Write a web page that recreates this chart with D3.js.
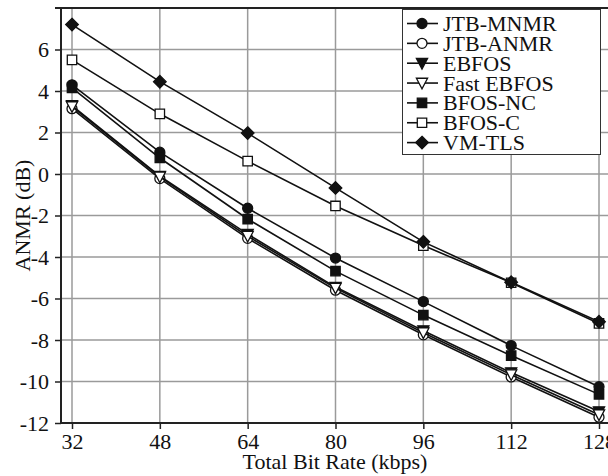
<!DOCTYPE html>
<html><head><meta charset="utf-8">
<script src="https://cdn.jsdelivr.net/npm/d3@7/dist/d3.min.js"></script>
<style>body{margin:0;background:#fff}svg{display:block}</style>
</head><body>
<script>
const bitRates = [32, 48, 64, 80, 96, 112, 128];
const xTicks = [32, 48, 64, 80, 96, 112, 128];
const yTicks = [-12, -10, -8, -6, -4, -2, 0, 2, 4, 6];
const seriesNames = ["JTB-MNMR", "JTB-ANMR", "EBFOS", "Fast EBFOS", "BFOS-NC", "BFOS-C", "VM-TLS"];
const jtbMnmr   = [4.3, 1.05, -1.65, -4.05, -6.15, -8.27, -10.25];
const jtbAnmr   = [3.15, -0.22, -3.1, -5.6, -7.75, -9.78, -11.72];
const ebfos     = [3.3, -0.1, -2.9, -5.45, -7.55, -9.57, -11.45];
const fastEbfos = [3.25, -0.14, -3.0, -5.5, -7.65, -9.67, -11.6];
const bfosNc    = [4.15, 0.77, -2.17, -4.68, -6.8, -8.75, -10.62];
const bfosC     = [5.5, 2.9, 0.62, -1.54, -3.45, -5.24, -7.2];
const vmTls     = [7.2, 4.45, 1.97, -0.67, -3.27, -5.22, -7.12];
const seriesValues = [jtbMnmr, jtbAnmr, ebfos, fastEbfos, bfosNc, bfosC, vmTls];
const markerShapes = ["circle", "circle", "triDown", "triDown", "square", "square", "diamond"];
const markerFilled = [true, false, true, false, true, false, true];

const W = 608, H = 476;
const svg = d3.select("body").append("svg").attr("width", W).attr("height", H)
  .style("font-family", "'Liberation Serif','Times New Roman',serif");

const x = d3.scaleLinear().domain([32, 128]).range([72, 599]);
const y = d3.scaleLinear().domain([-12, 8]).range([423, 8]);
const axisX0 = 61;

// grid
const g = svg.append("g");
g.selectAll("line.vg").data(xTicks).enter().append("line")
  .attr("x1", d => x(d)).attr("x2", d => x(d)).attr("y1", y(8)).attr("y2", y(-12))
  .attr("stroke", "#9a9a9a").attr("stroke-width", 1.5);
g.selectAll("line.hg").data(yTicks.concat([8])).enter().append("line")
  .attr("x1", axisX0).attr("x2", W).attr("y1", d => y(d)).attr("y2", d => y(d))
  .attr("stroke", "#9a9a9a").attr("stroke-width", 1.5);

// top frame line
svg.append("line").attr("x1", 55).attr("x2", W).attr("y1", y(8)).attr("y2", y(8))
  .attr("stroke", "#222").attr("stroke-width", 2);

// axes
const xAxis = d3.axisBottom(x).tickValues(xTicks).tickSize(6).tickPadding(4).tickSizeOuter(0);
const xg = svg.append("g").attr("transform", `translate(0,${y(-12)})`).call(xAxis);
xg.select(".domain").attr("d", `M${axisX0},0H${W}`).attr("stroke", "#222").attr("stroke-width", 2);
xg.selectAll(".tick line").attr("stroke", "#222").attr("stroke-width", 1.5);
xg.selectAll("text").attr("font-size", 22).attr("fill", "#111").attr("font-family", "'Liberation Serif',serif");

const yAxis = d3.axisLeft(y).tickValues(yTicks).tickSize(6).tickPadding(6).tickSizeOuter(0)
  .tickFormat(d => d < 0 ? "-" + Math.abs(d) : String(d));
const ygA = svg.append("g").attr("transform", `translate(${axisX0},0)`).call(yAxis);
ygA.select(".domain").attr("d", `M0,${y(8)}V${y(-12)}`).attr("stroke", "#222").attr("stroke-width", 2);
ygA.selectAll(".tick line").attr("stroke", "#222").attr("stroke-width", 1.5);
ygA.selectAll("text").attr("font-size", 22).attr("fill", "#111").attr("font-family", "'Liberation Serif',serif");

// axis titles
svg.append("text").attr("x", 335).attr("y", 469).attr("text-anchor", "middle")
  .attr("font-size", 22).attr("fill", "#111").text("Total Bit Rate (kbps)");
svg.append("text").attr("transform", `translate(30,${(y(8) + y(-12)) / 2}) rotate(-90)`)
  .attr("text-anchor", "middle").attr("font-size", 22).attr("fill", "#111").text("ANMR (dB)");

// marker path generator
function markerPath(shape) {
  if (shape === "circle") { const r = 5; return `M${-r},0A${r},${r} 0 1,0 ${r},0A${r},${r} 0 1,0 ${-r},0Z`; }
  if (shape === "square") { const s = 4.7; return `M${-s},${-s}H${s}V${s}H${-s}Z`; }
  if (shape === "diamond") { const s = 6.3; return `M0,${-s}L${s},0L0,${s}L${-s},0Z`; }
  if (shape === "triDown") { const w = 5.6, h = 4.8; return `M${-w},${-h}H${w}L0,${h + 1}Z`; }
}

const line = d3.line().x((d, i) => x(bitRates[i])).y(d => y(d));
seriesValues.forEach((vals, si) => {
  const sg = svg.append("g");
  sg.append("path").attr("d", line(vals)).attr("fill", "none").attr("stroke", "#111").attr("stroke-width", 1.6);
  sg.selectAll("path.m").data(vals).enter().append("path").attr("class", "m")
    .attr("d", markerPath(markerShapes[si]))
    .attr("transform", (d, i) => `translate(${x(bitRates[i])},${y(d)})`)
    .attr("fill", markerFilled[si] ? "#111" : "#fff").attr("stroke", "#111").attr("stroke-width", 1.3);
});

// legend
const lg = svg.append("g");
lg.append("rect").attr("x", 402.5).attr("y", 9.5).attr("width", 198).attr("height", 145)
  .attr("fill", "#fff").attr("stroke", "#333").attr("stroke-width", 1);
seriesNames.forEach((name, i) => {
  const base = 31 + i * 19.85;
  const cy = base - 7.5;
  lg.append("line").attr("x1", 407).attr("x2", 438).attr("y1", cy).attr("y2", cy)
    .attr("stroke", "#111").attr("stroke-width", 1.6);
  lg.append("path").attr("d", markerPath(markerShapes[i])).attr("transform", `translate(422,${cy})`)
    .attr("fill", markerFilled[i] ? "#111" : "#fff").attr("stroke", "#111").attr("stroke-width", 1.3);
  lg.append("text").attr("x", 443).attr("y", base).attr("font-size", 22).attr("fill", "#111").text(name);
});
</script>
</body></html>
